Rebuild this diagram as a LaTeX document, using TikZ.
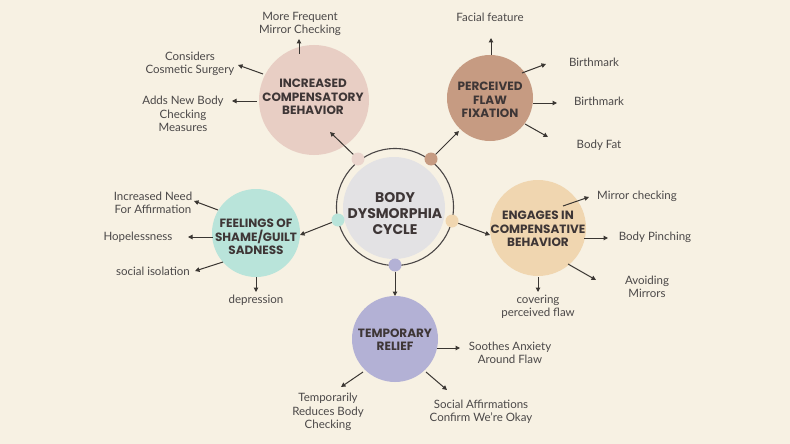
\documentclass[tikz,border=0pt]{standalone}
\usepackage{fontspec}
\setmainfont{Lato}
\newfontfamily\headfont{Poppins}
\usetikzlibrary{arrows.meta}
\definecolor{bgc}{HTML}{F7F1E3}
\definecolor{pinkc}{HTML}{E8CEC4}
\definecolor{brownc}{HTML}{C69B82}
\definecolor{tealc}{HTML}{B9E4DA}
\definecolor{beigec}{HTML}{F0D6B0}
\definecolor{lavc}{HTML}{B3B1D5}
\definecolor{greyc}{HTML}{E3E2E4}
\definecolor{ringc}{HTML}{4A4646}
\definecolor{arrc}{HTML}{3A3632}
\definecolor{labc}{HTML}{4B4848}
\definecolor{headc}{HTML}{3E3636}
\tikzset{
  bubble/.style={circle,inner sep=0pt},
  btext/.style={inner sep=0pt,align=center,text=headc,font=\headfont\bfseries\fontsize{12}{13.3}\selectfont},
  dot/.style={circle,inner sep=0pt,minimum size=13pt},
  lab/.style={align=center,inner sep=0pt,text=labc,font=\fontsize{11.5}{13.2}\selectfont},
  arr/.style={draw=arrc,line width=1pt,-{Triangle[length=4.5pt,width=4.5pt]}},
}
\begin{document}
\begin{tikzpicture}[x=1pt,y=-1pt]
\fill[bgc] (0,0) rectangle (790,444);
\useasboundingbox (0,0) rectangle (790,444);

% center
\node[circle,fill=greyc,minimum size=102pt,inner sep=0] (core) at (394,208) {};
\draw[ringc,line width=1.1pt] (395,207) circle (58.5);
\node[align=center,text=headc,font=\headfont\bfseries\fontsize{14}{16}\selectfont] (title) at (395,214) {BODY\\DYSMORPHIA\\CYCLE};

% dots
\node[dot,fill=pinkc!85!white] (dp) at (358,159) {};
\node[dot,fill=brownc] (db) at (431,159) {};
\node[dot,fill=tealc] (dt) at (338,220) {};
\node[dot,fill=beigec] (dy) at (452,221) {};
\node[dot,fill=lavc] (dl) at (395,265) {};

% bubbles
\node[bubble,fill=pinkc,minimum size=110pt] (pink) at (314,100) {};
\node[bubble,fill=brownc,minimum size=86pt] (brown) at (490,98) {};
\node[bubble,fill=tealc,minimum size=88pt] (teal) at (256,233) {};
\node[bubble,fill=beigec,minimum size=96pt] (beige) at (538,228) {};
\node[bubble,fill=lavc,minimum size=86pt] (lav) at (395,339) {};
\node[btext] (pinkT) at (313,97) {INCREASED\\COMPENSATORY\\BEHAVIOR};
\node[btext] (brownT) at (490,100) {PERCEIVED\\FLAW\\FIXATION};
\node[btext] (tealT) at (256,237) {FEELINGS OF\\SHAME/GUILT\\SADNESS};
\node[btext] (beigeT) at (538,229) {ENGAGES IN\\COMPENSATIVE\\BEHAVIOR};
\node[btext] (lavT) at (395,340) {TEMPORARY\\RELIEF};

% inner arrows
\coordinate (tp) at (330,132);
\coordinate (tb) at (459,131);
\coordinate (tt) at (300,235);
\coordinate (ty) at (490,235);
\coordinate (tl) at (395,296);
\draw[arr] (dp) -- (tp);
\draw[arr] (db) -- (tb);
\draw[arr] (dt) -- (tt);
\draw[arr] (dy) -- (ty);
\draw[arr] (dl) -- (tl);

% labels
\node[lab] (p1) at (300,24) {More Frequent\\Mirror Checking};
\node[lab] (p2) at (190,64) {Considers\\Cosmetic Surgery};
\node[lab] (p3) at (183,114) {Adds New Body\\Checking\\Measures};
\node[lab] (b1) at (490,17) {Facial feature};
\node[lab] (b2) at (594,62) {Birthmark};
\node[lab] (b3) at (599,101) {Birthmark};
\node[lab] (b4) at (599,145) {Body Fat};
\node[lab] (t1) at (153,203) {Increased Need\\For Affirmation};
\node[lab] (t2) at (138,237) {Hopelessness};
\node[lab] (t3) at (153,271) {social isolation};
\node[lab] (t4) at (256,300) {depression};
\node[lab] (y1) at (637,196) {Mirror checking};
\node[lab] (y2) at (655,237) {Body Pinching};
\node[lab] (y3) at (647,287) {Avoiding\\Mirrors};
\node[lab] (y4) at (538,307) {covering\\perceived flaw};
\node[lab] (l1) at (510,353) {Soothes Anxiety\\Around Flaw};
\node[lab] (l2) at (328,412) {Temporarily\\Reduces Body\\Checking};
\node[lab] (l3) at (481,412) {Social Affirmations\\Confirm We're Okay};

% outer arrow coordinates
\coordinate (sp1) at (299,54);  \coordinate (ep1) at (299,39);
\coordinate (sp2) at (263,74);  \coordinate (ep2) at (238,65);
\coordinate (sp3) at (257,101); \coordinate (ep3) at (232,101);
\coordinate (sb1) at (491,55);  \coordinate (eb1) at (491,38);
\coordinate (sb2) at (522,73);  \coordinate (eb2) at (546,64);
\coordinate (sb3) at (533,103); \coordinate (eb3) at (557,103);
\coordinate (sb4) at (525,124); \coordinate (eb4) at (548,137);
\coordinate (st1) at (218,210); \coordinate (et1) at (194,201);
\coordinate (st2) at (213,237); \coordinate (et2) at (188,237);
\coordinate (st3) at (223,262); \coordinate (et3) at (195,271);
\coordinate (st4) at (256,277); \coordinate (et4) at (256,292);
\coordinate (sy1) at (563,206); \coordinate (ey1) at (589,197);
\coordinate (sy2) at (584,238); \coordinate (ey2) at (608,238);
\coordinate (sy3) at (568,264); \coordinate (ey3) at (596,280);
\coordinate (sy4) at (538,277); \coordinate (ey4) at (538,292);
\coordinate (sl1) at (437,348); \coordinate (el1) at (460,348);
\coordinate (sl2) at (363,372); \coordinate (el2) at (341,387);
\coordinate (sl3) at (426,372); \coordinate (el3) at (447,390);

\foreach \s/\e in {sp1/ep1,sp2/ep2,sp3/ep3,sb1/eb1,sb2/eb2,sb3/eb3,sb4/eb4,st1/et1,st2/et2,st3/et3,st4/et4,sy1/ey1,sy2/ey2,sy3/ey3,sy4/ey4,sl1/el1,sl2/el2,sl3/el3}
  \draw[arr] (\s) -- (\e);
\end{tikzpicture}
\end{document}
